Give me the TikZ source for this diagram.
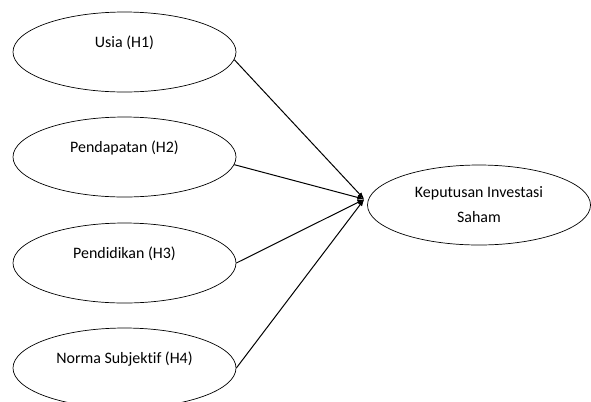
\documentclass[tikz,border=0pt]{standalone}
\usepackage{fontspec}
\setmainfont{Carlito}[Ligatures=NoCommon]
\usetikzlibrary{shapes.geometric}
\usetikzlibrary{arrows.meta}

\tikzset{
	varbox/.style={draw, ellipse, line width=0.7pt, minimum width=223bp, minimum height=80bp, inner sep=0pt, font=\fontsize{16}{25}\selectfont},
	link/.style={-{Latex[length=7pt,width=5pt]}, line width=1pt}
}

\begin{document}
\begin{tikzpicture}[x=1bp, y=-1bp]
	\useasboundingbox (0,0) rectangle (591,401);
	\node[varbox, text depth=21bp] (usia) at (124.5,52) {Usia (H1)};
	\node[varbox, text depth=21bp] (pendapatan) at (124.5,157) {Pendapatan (H2)};
	\node[varbox, text depth=21bp] (pendidikan) at (124.5,263) {Pendidikan (H3)};
	\node[varbox, text depth=21bp] (norma) at (124.5,368) {Norma Subjektif (H4)};
	\node[varbox, align=center] (keputusan) at (479,205) {Keputusan Investasi\\Saham};
	\coordinate (tip) at ([xshift=-4bp]keputusan.177);
	\draw[link] (usia.-4) -- (tip); % H1
	\draw[link] (pendapatan.-4) -- (tip); % H2
	\draw[link] (pendidikan.east) -- (tip); % H3
	\draw[link] (norma.east) -- (tip); % H4
\end{tikzpicture}
\end{document}
